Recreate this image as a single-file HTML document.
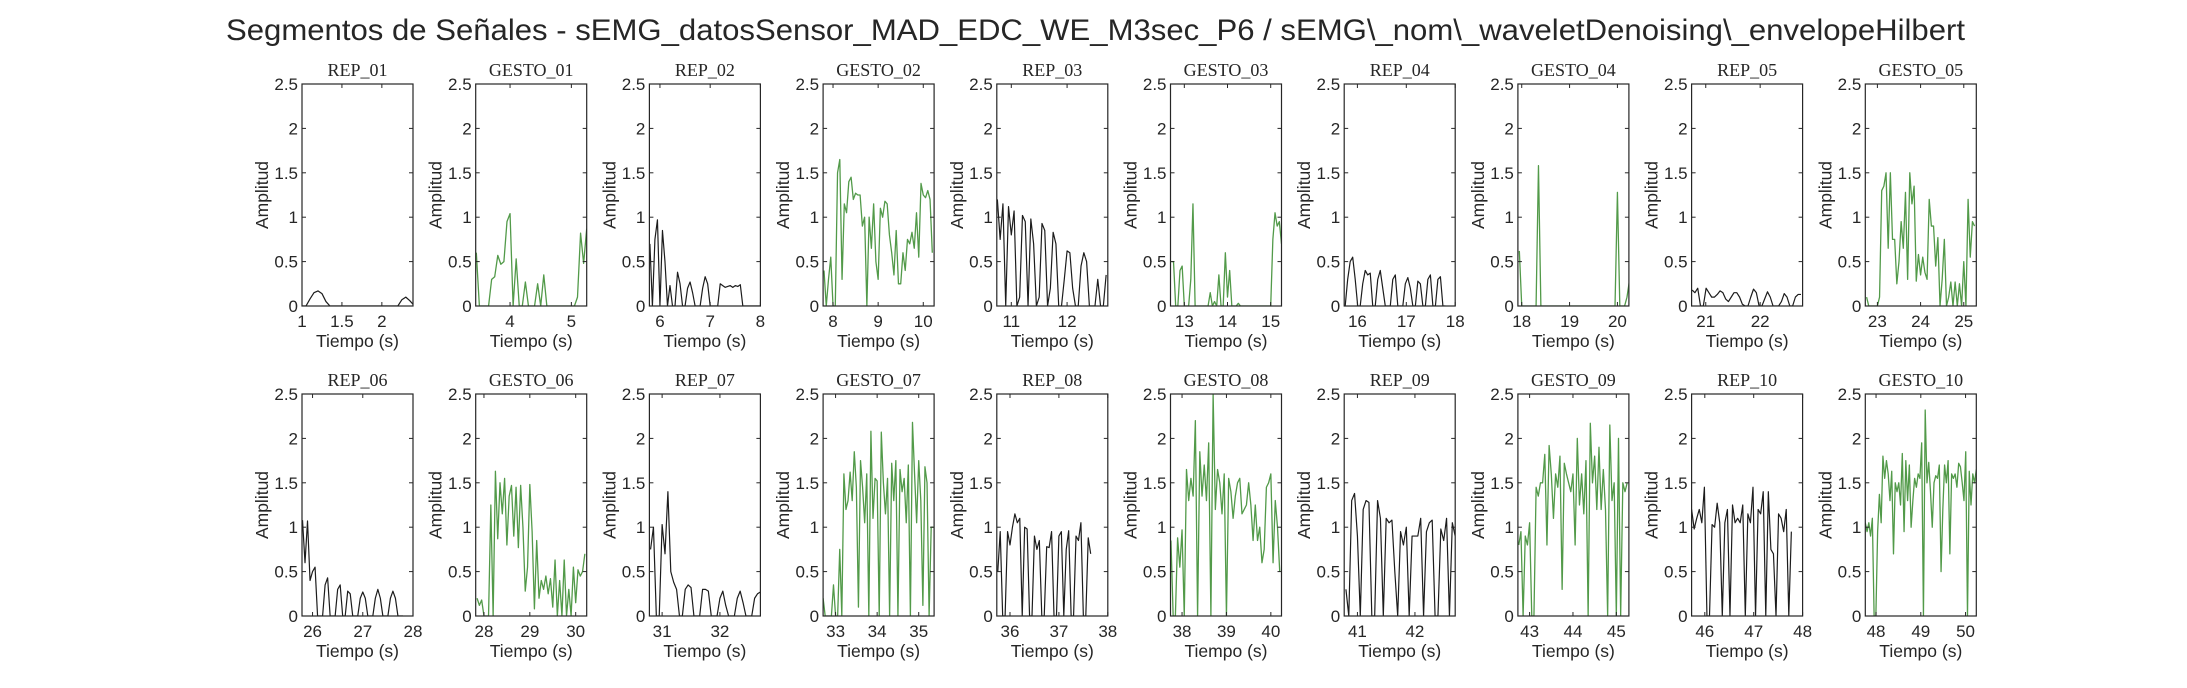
<!DOCTYPE html>
<html><head><meta charset="utf-8"><title>Segmentos de Señales</title>
<style>
html,body{margin:0;padding:0;background:#fff;}
svg{display:block;}
text{font-family:"Liberation Sans",sans-serif;fill:#262626;}
.ser{font-family:"Liberation Serif",serif;}
</style></head>
<body>
<svg id="fig" width="2187" height="688" viewBox="0 0 2187 688" xmlns="http://www.w3.org/2000/svg">
<rect x="0" y="0" width="2187" height="688" fill="#fff"/>
<text x="226" y="40" font-size="30" textLength="1739" lengthAdjust="spacingAndGlyphs">Segmentos de Señales - sEMG_datosSensor_MAD_EDC_WE_M3sec_P6 / sEMG\_nom\_waveletDenoising\_envelopeHilbert</text>
<g id="panels"></g>
</svg>
<script>
// ---- data ----
const panelTitles = ["REP_01","GESTO_01","REP_02","GESTO_02","REP_03","GESTO_03","REP_04","GESTO_04","REP_05","GESTO_05",
 "REP_06","GESTO_06","REP_07","GESTO_07","REP_08","GESTO_08","REP_09","GESTO_09","REP_10","GESTO_10"];
const xMin = [1.0,3.44,5.79,7.78,10.74,12.68,15.73,17.92,20.74,22.72, 25.79,27.82,30.78,32.7,35.73,37.74,40.77,42.73,45.73,47.76];
const xMax = [2.39,5.25,8.0,10.24,12.73,15.25,18.0,20.24,22.78,25.29, 28.0,30.24,32.7,35.37,38.0,40.24,42.7,45.29,48.0,50.24];
const xTicks = [[1,1.5,2],[4,5],[6,7,8],[8,9,10],[11,12],[13,14,15],[16,17,18],[18,19,20],[21,22],[23,24,25],
 [26,27,28],[28,29,30],[31,32],[33,34,35],[36,37,38],[38,39,40],[41,42],[43,44,45],[46,47,48],[48,49,50]];
const xTickLabels = [["1","1.5","2"],["4","5"],["6","7","8"],["8","9","10"],["11","12"],["13","14","15"],["16","17","18"],["18","19","20"],["21","22"],["23","24","25"],
 ["26","27","28"],["28","29","30"],["31","32"],["33","34","35"],["36","37","38"],["38","39","40"],["41","42"],["43","44","45"],["46","47","48"],["48","49","50"]];
const yTicks = [0,0.5,1,1.5,2,2.5];
const yTickLabels = ["0","0.5","1","1.5","2","2.5"];
const yMax = 2.5;
const isGesture = [0,1,0,1,0,1,0,1,0,1, 0,1,0,1,0,1,0,1,0,1];
const tStart = [1.0,3.45,5.8,7.8,10.75,12.7,15.75,17.95,20.75,22.75, 25.8,27.85,30.8,32.7,35.75,37.75,40.8,42.75,45.73,47.76];
const tEnd = [2.4,5.25,8.0,10.2,12.7,15.25,17.8,20.25,22.75,25.25, 27.8,30.2,32.7,35.35,37.65,40.2,42.7,45.25,47.77,50.24];

const v01 = [0,0,0.08,0.15,0.17,0.14,0.05,0,0,0,0,0,0,0,0,0,0,0,0,0,0,0,0,0,0,0.07,0.1,0.06,0.01];
const v02 = [0.6,0,0,0,0,0.3,0.33,0.57,0.47,0.5,0.95,1.04,0,0.53,0,0,0.27,0,0,0,0.25,0,0.35,0,0,0,0,0,0,0,0,0,0,0.1,0.82,0.48,0.87];
const v03 = [0.7,0,0.75,0.97,0,0.85,0.5,0,0.23,0,0,0.38,0.25,0,0,0.2,0.27,0.15,0,0,0,0.2,0.33,0.25,0,0,0,0,0.25,0.23,0.21,0.22,0.23,0.21,0.23,0.22,0.24,0,0,0,0,0,0,0,0];
const v04 = [0.4,0,0.3,0.55,0,0,1.5,1.65,0.3,1.15,1.05,1.4,1.45,1.2,1.27,1.25,1.25,0.9,1.0,0,1.0,0.65,1.15,0.5,0.3,1.1,1.0,1.18,1.15,0.8,0.6,0.35,0.85,0.25,0.25,0.6,0.4,0.75,0.7,0.83,0.65,1.05,0.55,1.38,1.25,1.22,1.3,1.2,0.6];
const v05 = [1.2,0.75,1.15,0,1.12,0.8,1.07,0,0.1,1.02,0.95,0,0.98,0.7,0,0.1,0.93,0.85,0,0.2,0.83,0.7,0,0,0.3,0.62,0.6,0.2,0,0,0.45,0.6,0.5,0,0,0,0.3,0,0,0.35];
const v06 = [0.5,0.5,0,0,0.4,0.45,0,0,0,0.3,1.15,0,0,0,0,0,0,0,0.15,0,0.05,0,0.35,0,0,0.6,0.1,0.4,0,0,0,0.03,0,0,0,0,0,0,0,0,0,0,0,0,0,0,0,0.75,1.05,0.9,0.95,0.7];
const v07 = [0,0.3,0.5,0.55,0.3,0,0,0.25,0.4,0.35,0.37,0,0,0.3,0.4,0.2,0,0,0,0.3,0.35,0,0,0,0.25,0.32,0.2,0,0,0.28,0.25,0,0,0.3,0.35,0,0,0.3,0.33,0,0];
const v08 = [0.62,0,0,0,0,0,0,0,1.58,0,0,0,0,0,0,0,0,0,0,0,0,0,0,0,0,0,0,0,0,0,0,0,0,0,0,0,0,0,0,0,0,1.28,0,0,0,0.1,0.28];
const v09 = [0.18,0.15,0.2,0,0,0.2,0.15,0.1,0.1,0.13,0.17,0.15,0.08,0.05,0.1,0.15,0.15,0.1,0.02,0,0,0.1,0.19,0.15,0,0,0.08,0.16,0.1,0,0,0,0.05,0.14,0.1,0,0,0.1,0.13,0.13];
const v10 = [0.1,0,0,0,0,0,0.1,1.3,1.35,1.5,0.65,1.5,0.75,0.75,0.25,0.5,0.95,0.65,1.28,0.3,1.5,1.15,1.35,0.28,0.58,0.35,0.55,0.38,0.3,1.2,0.9,0.9,0.45,0.77,0,0.3,0.75,0,0.1,0.27,0,0.27,0,0.25,0,0.5,0,1.2,0.55,0.95,0.9];
const v11 = [1.08,0.6,1.07,0.4,0.5,0.55,0,0,0,0.35,0.43,0,0,0,0.3,0.35,0,0,0.28,0.25,0,0,0,0.2,0.27,0.2,0,0,0,0.2,0.3,0.2,0,0,0,0.2,0.28,0.2,0,0,0];
const v12 = [0.2,0.12,0.18,0,0,0,1.25,0,1.63,0.87,1.5,1.15,1.55,0.8,1.35,1.47,0.9,1.45,0.77,1.47,1.0,0.28,0.55,1.48,0.95,0.08,0.85,0.2,0.4,0.3,0.45,0.25,0.42,0.1,0.63,0,0.4,0,0.63,0,0.3,0,0.55,0.15,0.52,0.45,0.5,0.7];
const v13 = [0.75,1.0,0,0,1.03,0.7,1.4,0.5,0.38,0.3,0,0,0.3,0.35,0.32,0,0,0,0.3,0.3,0.28,0,0,0,0.2,0.28,0.12,0,0,0,0.2,0.28,0.15,0,0,0,0.2,0.25,0.27];
const v14 = [0.2,0,0,0,0,0.35,0,0,0.75,0,1.6,1.2,1.3,1.62,1.3,1.85,1.45,0.1,1.75,1.45,1.05,1.6,0,2.08,1.1,1.55,1.52,0,2.07,1.5,1.15,1.55,0,1.72,1.3,1.75,0,1.65,1.4,1.55,1.05,1.7,0,2.18,1.6,1.05,1.75,1.3,0.12,1.68,1.5,0,1.0,1.0];
const v15 = [0.5,0.95,0,0,0.95,0.8,1.0,1.15,1.05,1.1,0,1.0,0.98,0,0,0.9,0.75,0.85,0,0,0.78,0.77,0.95,0,0,0.9,0.95,0,0.75,0.96,0,0,0.9,0.85,1.05,0,0,0.88,0.7];
const v16 = [0.85,0,0,0.88,0.55,0.97,0,1.65,1.3,1.55,1.35,2.2,0,1.85,1.35,1.7,1.3,1.95,0,2.5,1.2,1.65,1.5,1.15,1.6,0,1.55,1.4,1.1,1.35,1.5,1.55,1.15,1.2,1.25,1.5,1.25,0.85,1.25,0.85,1.0,0.6,0.75,1.45,1.5,1.6,0.6,1.3,1.0,0.5];
const v17 = [0.3,0,1.3,1.38,0.9,0,1.2,1.3,1.28,0,0,1.3,1.1,0,1.1,1.05,1.08,0.5,0,0.95,0.8,1.0,0,0.9,0.9,0.9,1.1,0,0.95,1.05,1.08,0,0,0.98,0.85,1.1,0,1.05,0.9];
const v18 = [0.8,0.95,0,0.9,0.8,1.05,0,0,1.45,1.35,1.5,1.5,1.82,0.8,1.92,1.6,1.1,1.6,1.45,1.8,0.3,1.72,1.6,1.5,1.4,1.6,0.8,2.0,1.25,1.6,1.15,1.75,0,2.17,1.5,1.8,1.2,1.9,1.2,1.65,1.2,0,2.15,1.3,1.5,0,2.0,0,1.5,1.4,1.5];
const v19 = [1.2,0.98,1.1,1.2,1.05,1.45,0,0,1.03,1.0,1.27,1.05,0,1.05,1.2,0,1.25,1.05,1.1,1.05,1.25,0,1.15,1.05,1.45,0,1.2,1.15,1.4,0,1.4,0.75,0.7,0,1.15,1.1,0.95,1.2,0,0.95];
const v20 = [1.05,0.95,1.05,0.9,1.1,0,0,0.95,1.37,1.05,1.8,1.55,1.75,1.6,1.3,1.63,0.7,1.5,1.4,1.5,1.25,1.83,0.95,1.75,1.3,1.7,1.0,1.3,1.55,1.45,1.6,1.55,1.95,0,2.32,1.5,1.73,1.4,1.0,1.5,1.58,1.55,1.7,0.5,1.2,1.7,1.5,1.75,0.7,1.6,1.55,1.6,1.45,1.72,1.68,1.5,1.3,1.85,0,1.63,1.25,1.6,1.5,1.65];
const seriesValues = [v01,v02,v03,v04,v05,v06,v07,v08,v09,v10,v11,v12,v13,v14,v15,v16,v17,v18,v19,v20];

// ---- layout ----
const NS = "http://www.w3.org/2000/svg";
const root = document.getElementById('panels');
const AX_LEFT0 = 302, AX_PITCH = 173.7, AX_W = 111;
const ROW_TOP = [84, 394], AX_H = 222;
function mk(tag, attrs, parent) {
  const e = document.createElementNS(NS, tag);
  for (const k in attrs) e.setAttribute(k, attrs[k]);
  parent.appendChild(e);
  return e;
}
const defs = mk('defs', {}, document.getElementById('fig'));

for (let p = 0; p < 20; p++) {
  const row = Math.floor(p / 10), col = p % 10;
  const L = AX_LEFT0 + col * AX_PITCH, T = ROW_TOP[row], R = L + AX_W, B = T + AX_H;
  const xs = v => L + (v - xMin[p]) / (xMax[p] - xMin[p]) * AX_W;
  const ys = v => B - v / yMax * AX_H;
  const g = mk('g', {}, root);
  
  

  const cp = mk('clipPath', {id: 'clip' + p}, defs);
  mk('rect', {x: L, y: T, width: AX_W, height: AX_H}, cp);

  // line series
  const vals = seriesValues[p];
  const n = vals.length;
  let pts = [];
  for (let i = 0; i < n; i++) {
    const t = tStart[p] + (tEnd[p] - tStart[p]) * i / (n - 1);
    pts.push(xs(t).toFixed(2) + ',' + ys(vals[i]).toFixed(2));
  }
  const line = mk('polyline', {points: pts.join(' '), fill: 'none',
    stroke: isGesture[p] ? '#3f8f35' : '#1c1c1c', 'stroke-width': isGesture[p] ? 1.3 : 1.2,
    'stroke-opacity': isGesture[p] ? 0.9 : 1, 'stroke-linejoin': 'round', 'clip-path': 'url(#clip' + p + ')'}, g);
  
  

  // box
  const box = mk('rect', {x: L, y: T, width: AX_W, height: AX_H, fill: 'none', stroke: '#262626', 'stroke-width': 1.2}, g);
  
  

  // y ticks
  for (let i = 0; i < yTicks.length; i++) {
    const y = ys(yTicks[i]);
    mk('line', {x1: L, x2: L + 4, y1: y, y2: y, stroke: '#262626', 'stroke-width': 1}, g);
    mk('line', {x1: R, x2: R - 4, y1: y, y2: y, stroke: '#262626', 'stroke-width': 1}, g);
    const tl = mk('text', {x: L - 4, y: y + 6, 'font-size': 17, 'text-anchor': 'end'}, g);
    tl.textContent = yTickLabels[i];
    
    
  }
  // x ticks
  for (let i = 0; i < xTicks[p].length; i++) {
    const x = xs(xTicks[p][i]);
    mk('line', {x1: x, x2: x, y1: B, y2: B - 4, stroke: '#262626', 'stroke-width': 1}, g);
    mk('line', {x1: x, x2: x, y1: T, y2: T + 4, stroke: '#262626', 'stroke-width': 1}, g);
    const tl = mk('text', {x: x, y: B + 21, 'font-size': 17, 'text-anchor': 'middle'}, g);
    tl.textContent = xTickLabels[p][i];
    
    
  }
  // labels
  const xl = mk('text', {x: L + AX_W / 2, y: B + 41, 'font-size': 17.5, 'text-anchor': 'middle'}, g);
  xl.textContent = 'Tiempo (s)';
  
  
  const cy = T + AX_H / 2, cx = L - 34;
  const yl = mk('text', {x: cx, y: cy, 'font-size': 17.5, 'text-anchor': 'middle', transform: 'rotate(-90 ' + cx + ' ' + cy + ')'}, g);
  yl.textContent = 'Amplitud';
  
  
  const ti = mk('text', {x: L + AX_W / 2, y: T - 8, 'font-size': 18, 'text-anchor': 'middle', 'class': 'ser'}, g);
  ti.textContent = panelTitles[p];
  
  
}
</script>
</body></html>
